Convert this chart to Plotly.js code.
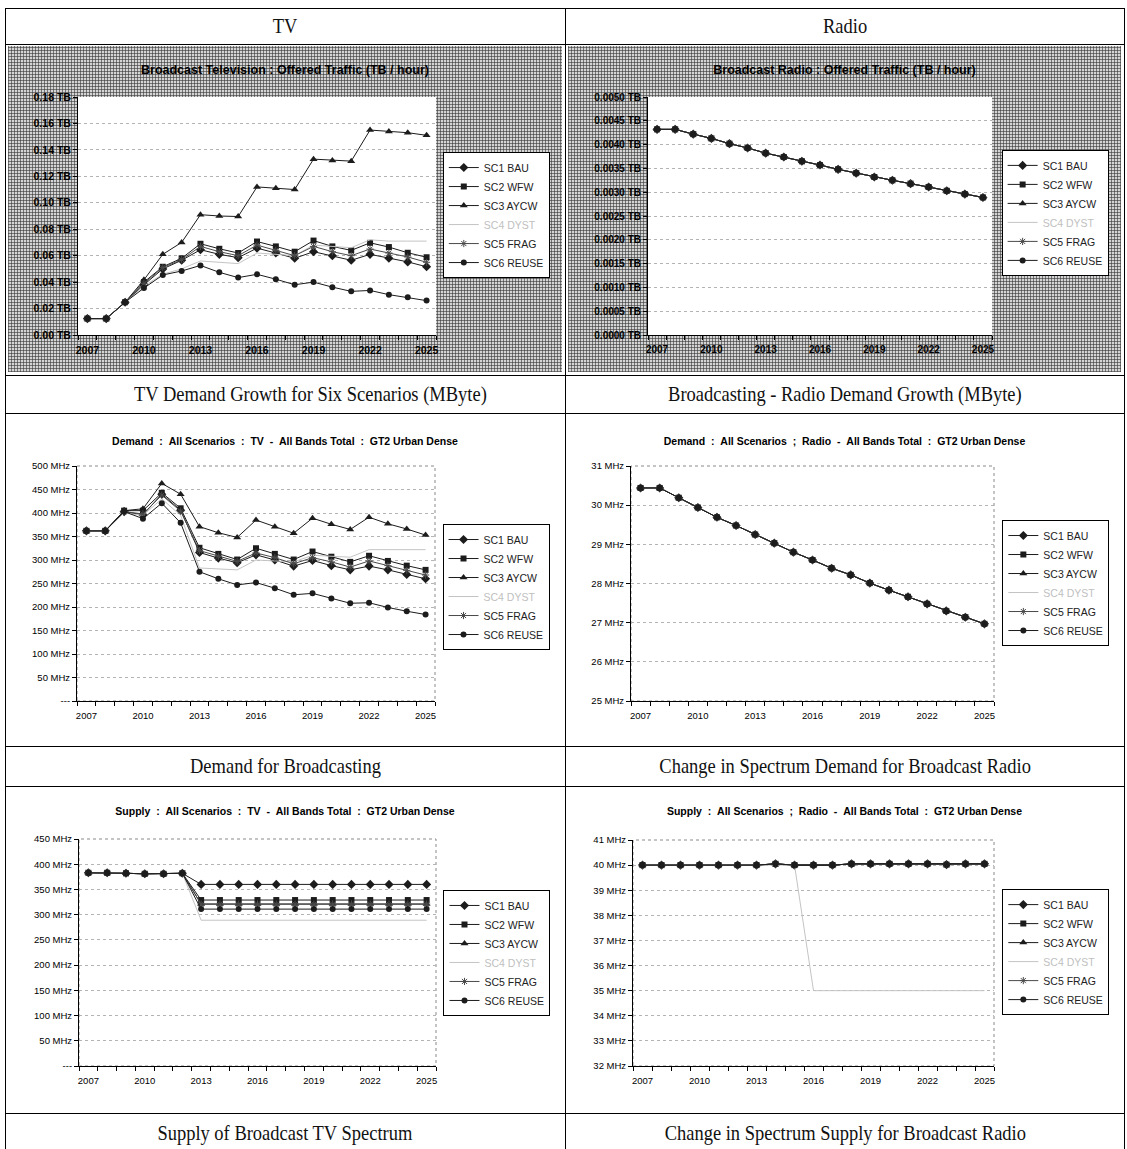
<!DOCTYPE html>
<html><head><meta charset="utf-8">
<script src="https://cdn.plot.ly/plotly-3.0.1.min.js"></script>
<style>
body{margin:0;background:#fff;width:1127px;height:1149px;position:relative;overflow:hidden;font-family:"Liberation Serif","Times New Roman",serif;}
.hl{position:absolute;height:1px;background:#000;}
.vl{position:absolute;width:1px;background:#000;}
.cap{position:absolute;text-align:center;font-size:21px;color:#111;white-space:nowrap;}
.cap span{display:inline-block;transform:scaleX(0.88);}
.panel{position:absolute;}
.hatch{background:
 repeating-linear-gradient(0deg, rgba(55,55,55,0.6) 0 1px, transparent 1px 3px),
 repeating-linear-gradient(90deg, rgba(55,55,55,0.6) 0 1px, transparent 1px 3px), #d4d4d4;}
</style>
</head><body>
<div class="hl" style="left:5px;top:8px;width:1120px"></div>
<div class="hl" style="left:5px;top:44px;width:1120px"></div>
<div class="hl" style="left:5px;top:375px;width:1120px"></div>
<div class="hl" style="left:5px;top:413px;width:1120px"></div>
<div class="hl" style="left:5px;top:746px;width:1120px"></div>
<div class="hl" style="left:5px;top:786px;width:1120px"></div>
<div class="hl" style="left:5px;top:1113px;width:1120px"></div>
<div class="vl" style="left:5px;top:8px;height:1141px"></div>
<div class="vl" style="left:565px;top:8px;height:1141px"></div>
<div class="vl" style="left:1124px;top:8px;height:1141px"></div>

<div class="cap" style="left:5px;top:8px;width:560px;line-height:36px"><span>TV</span></div>
<div class="cap" style="left:565px;top:8px;width:560px;line-height:36px"><span>Radio</span></div>
<div class="cap" style="left:30px;top:375px;width:560px;line-height:38px"><span>TV Demand Growth for Six Scenarios (MByte)</span></div>
<div class="cap" style="left:565px;top:375px;width:560px;line-height:38px"><span>Broadcasting - Radio Demand Growth (MByte)</span></div>
<div class="cap" style="left:5px;top:746px;width:560px;line-height:40px"><span>Demand for Broadcasting</span></div>
<div class="cap" style="left:565px;top:746px;width:560px;line-height:40px"><span>Change in Spectrum Demand for Broadcast Radio</span></div>
<div class="cap" style="left:5px;top:1113px;width:560px;line-height:40px"><span>Supply of Broadcast TV Spectrum</span></div>
<div class="cap" style="left:565px;top:1113px;width:560px;line-height:40px"><span>Change in Spectrum Supply for Broadcast Radio</span></div>

<div id="p1" class="panel hatch" style="left:8px;top:46px;width:554px;height:326px"></div>
<div id="p2" class="panel hatch" style="left:568px;top:46px;width:553px;height:326px"></div>
<div id="p3" class="panel" style="left:8px;top:418px;width:554px;height:326px"></div>
<div id="p4" class="panel" style="left:568px;top:418px;width:553px;height:326px"></div>
<div id="p5" class="panel" style="left:8px;top:788px;width:554px;height:323px"></div>
<div id="p6" class="panel" style="left:568px;top:788px;width:553px;height:323px"></div>

<script>
// ---------- DATA ----------
const years = [2007,2008,2009,2010,2011,2012,2013,2014,2015,2016,2017,2018,2019,2020,2021,2022,2023,2024,2025];
const yearTicks = [2007,2010,2013,2016,2019,2022,2025];
const scenarios = ['SC1 BAU','SC2 WFW','SC3 AYCW','SC4 DYST','SC5 FRAG','SC6 REUSE'];

// Broadcast Television : Offered Traffic (TB / hour)
const tvTrafficBAU   = [0.0124,0.0124,0.0248,0.038,0.050,0.0565,0.0645,0.061,0.0585,0.0657,0.062,0.058,0.063,0.060,0.0565,0.061,0.058,0.0553,0.0516];
const tvTrafficWFW   = [0.0124,0.0124,0.0248,0.040,0.0516,0.058,0.069,0.0652,0.062,0.0707,0.067,0.063,0.0714,0.067,0.064,0.0697,0.0665,0.0622,0.0588];
const tvTrafficAYCW  = [0.0124,0.0124,0.0248,0.0417,0.061,0.070,0.091,0.090,0.0896,0.112,0.111,0.110,0.133,0.132,0.1315,0.155,0.154,0.153,0.151];
const tvTrafficDYST  = [0.0124,0.0124,0.0248,0.037,0.046,0.050,0.056,0.055,0.054,0.062,0.061,0.060,0.068,0.067,0.066,0.072,0.071,0.071,0.071];
const tvTrafficFRAG  = [0.0124,0.0124,0.0248,0.039,0.051,0.057,0.067,0.063,0.060,0.068,0.064,0.060,0.067,0.063,0.060,0.065,0.062,0.059,0.055];
const tvTrafficREUSE = [0.0124,0.0124,0.0248,0.0355,0.0454,0.0484,0.0526,0.0474,0.0434,0.0459,0.0422,0.038,0.040,0.0362,0.033,0.0337,0.0305,0.0285,0.026];

// Broadcast Radio : Offered Traffic (TB / hour) — all six scenarios coincide
const radioTraffic = [0.00432,0.00432,0.00422,0.00413,0.00402,0.00393,0.00382,0.00374,0.00365,0.00357,0.00348,0.0034,0.00332,0.00325,0.00318,0.00311,0.00303,0.00296,0.00289];

// Demand : TV (MHz)
const tvDemandBAU   = [362,362,403,396,440,406,316,304,294,311,300,287,299,288,279,287,279,269,260];
const tvDemandWFW   = [362,362,405,405,443,410,326,313,301,325,313,301,318,307,296,309,298,288,279];
const tvDemandAYCW  = [362,362,405,409,463,440,371,358,348,385,371,357,389,376,365,391,377,366,353];
const tvDemandDYST  = [362,362,400,395,430,395,283,281,279,300,298,296,310,308,306,322,322,322,322];
const tvDemandFRAG  = [362,362,403,398,438,404,320,308,297,315,305,292,305,296,285,298,288,278,268];
const tvDemandREUSE = [362,362,403,388,421,379,275,260,247,252,240,226,229,218,208,209,199,191,184];

// Demand : Radio (MHz) — all six scenarios coincide
const radioDemand = [30.44,30.44,30.19,29.94,29.69,29.48,29.25,29.03,28.80,28.60,28.39,28.22,28.01,27.83,27.66,27.48,27.30,27.14,26.97];

// Supply : TV (MHz)
const tvSupplyBAU   = [383,383,382,381,381,382,360,360,360,360,360,360,360,360,360,360,360,360,360];
const tvSupplyWFW   = [383,383,382,381,381,382,329,329,329,329,329,329,329,329,329,329,329,329,329];
const tvSupplyAYCW  = [383,383,382,381,381,382,321,321,321,321,321,321,321,321,321,321,321,321,321];
const tvSupplyDYST  = [383,383,382,381,381,382,289,289,289,289,289,289,289,289,289,289,289,289,289];
const tvSupplyFRAG  = [383,383,382,381,381,382,321,321,321,321,321,321,321,321,321,321,321,321,321];
const tvSupplyREUSE = [383,383,382,381,381,382,311,311,311,311,311,311,311,311,311,311,311,311,311];

// Supply : Radio (MHz)
const radioSupply     = [40,40,40,40,40,40,40,40.05,40,40,40,40.05,40.05,40.05,40.05,40.05,40.02,40.05,40.05];
const radioSupplyDYST = [40,40,40,40,40,40,40,40,40,35,35,35,35,35,35,35,35,35,35];

// axis ticks
const tvTrafficTicks = [0,0.02,0.04,0.06,0.08,0.10,0.12,0.14,0.16,0.18];
const radioTrafficTicks = [0,0.0005,0.001,0.0015,0.002,0.0025,0.003,0.0035,0.004,0.0045,0.005];
const tvDemandTicks = [0,50,100,150,200,250,300,350,400,450,500];
const radioDemandTicks = [25,26,27,28,29,30,31];
const tvSupplyTicks = [0,50,100,150,200,250,300,350,400,450];
const radioSupplyTicks = [32,33,34,35,36,37,38,39,40,41];

// ---------- STYLE ----------
const FONT = '"Liberation Sans", Arial, sans-serif';
const seriesStyles = [
  {symbol:'diamond', size:7, color:'#1c1c1c'},
  {symbol:'square', size:6, color:'#1c1c1c'},
  {symbol:'triangle-up', size:7, color:'#1c1c1c'},
  {symbol:'circle', size:0, color:'#c4c4c4', noMarker:true},
  {symbol:'asterisk-open', size:6, color:'#4a4a4a'},
  {symbol:'circle', size:6, color:'#1c1c1c'}
];
const legendNames = scenarios.map((s,i)=> i===3 ? '<span style="color:#c0c0c0">'+s+'</span>' : s);

function makeTraces(list){
  return list.map((ys,i)=>{
    const st = seriesStyles[i];
    return {
      x: years, y: ys, type:'scatter', name: legendNames[i],
      mode: st.noMarker ? 'lines' : 'lines+markers',
      line:{color:st.color, width:1},
      marker:{symbol:st.symbol, size:st.size, color:st.color,
              line:{color:st.color, width: st.symbol.indexOf('open')>=0 ? 1 : 0}},
      hoverinfo:'skip'
    };
  });
}

function fmt(ticks, f){ return ticks.map(f); }

function draw(id, w, h, traces, o){
  const layout = {
    width:w, height:h,
    margin:{l:o.m[0], r:o.m[1], t:o.m[2], b:o.m[3], pad:0},
    paper_bgcolor:'rgba(0,0,0,0)', plot_bgcolor:'#ffffff',
    showlegend:true,
    title:{text:'<b>'+o.title+'</b>', font:{family:FONT, size:o.titleSize, color:'#000'},
           xref:'container', x:0.5, xanchor:'center', yref:'container', y:1-o.titleY/h, yanchor:'middle'},
    xaxis:{type:'linear', range:[2006.5,2025.5], tickvals:yearTicks, ticktext:yearTicks.map(String),
           ticks:'', showline:true, linecolor:'#000', linewidth:1, showgrid:false, zeroline:false,
           tickfont:{family:FONT, size:o.tickSize, color:'#000', weight:o.tickWeight||'normal'},
           ticklabelstandoff:o.xStand,
           minor:{ticks:'outside', tick0:2006.5, dtick:1, ticklen:4, tickcolor:'#000', tickwidth:1, showgrid:false},
           fixedrange:true},
    yaxis:{range:o.yRange, tickvals:o.yTicks, ticktext:o.yText, showline:true, linecolor:'#000', linewidth:1,
           ticks:'outside', ticklen:4, tickcolor:'#000', showgrid:true, gridcolor:'#b4b4b4', griddash:'dot',
           gridwidth:1, zeroline:false,
           tickfont:{family:FONT, size:o.tickSize, color:'#000', weight:o.tickWeight||'normal'},
           fixedrange:true},
    legend:{x:o.legX, y:o.legY, xanchor:'left', yanchor:'middle', bgcolor:'#fff', bordercolor:'#000', borderwidth:1,
            font:{family:FONT, size:10.5, color:'#222'}, itemwidth:30, tracegroupgap:0},
    shapes: o.border ? [{type:'rect', xref:'paper', yref:'paper', x0:0, x1:1, y0:0, y1:1,
                         line:{color:'#8a8a8a', width:1, dash:'dot'}, layer:'below'}] : []
  };
  Plotly.newPlot(id, traces, layout, {staticPlot:true, displayModeBar:false});
}

draw('p1', 554, 326,
  makeTraces([tvTrafficBAU,tvTrafficWFW,tvTrafficAYCW,tvTrafficDYST,tvTrafficFRAG,tvTrafficREUSE]),
  {m:[70,119,51,37], title:'Broadcast Television : Offered Traffic (TB / hour)', titleSize:12.5, titleY:24,
   tickSize:10.5, tickWeight:'bold', xStand:5, yRange:[0,0.18], yTicks:tvTrafficTicks,
   yText:fmt(tvTrafficTicks, v=>v.toFixed(2)+' TB'), legX:1.019, legY:0.504, border:false});

draw('p2', 553, 326,
  makeTraces([radioTraffic,radioTraffic,radioTraffic,radioTraffic,radioTraffic,radioTraffic]),
  {m:[80,121,51,37], title:'Broadcast Radio : Offered Traffic (TB / hour)', titleSize:12.5, titleY:24,
   tickSize:10, tickWeight:'bold', xStand:5, yRange:[0,0.005], yTicks:radioTrafficTicks,
   yText:fmt(radioTrafficTicks, v=>v.toFixed(4)+' TB'), legX:1.028, legY:0.513, border:false});

const sp = '\u00a0';
draw('p3', 554, 326,
  makeTraces([tvDemandBAU,tvDemandWFW,tvDemandAYCW,tvDemandDYST,tvDemandFRAG,tvDemandREUSE]),
  {m:[69,110,48,43], title:'Demand'+sp+' : '+sp+'All Scenarios'+sp+' : '+sp+'TV'+sp+' - '+sp+'All Bands Total'+sp+' : '+sp+'GT2 Urban Dense',
   titleSize:10.5, titleY:23, tickSize:9.5, xStand:6, yRange:[0,500], yTicks:tvDemandTicks,
   yText:fmt(tvDemandTicks, v=> v===0 ? '---' : v+' MHz'), legX:1.021, legY:0.485, border:true});

draw('p4', 553, 326,
  makeTraces([radioDemand,radioDemand,radioDemand,radioDemand,radioDemand,radioDemand]),
  {m:[63,107,48,43], title:'Demand'+sp+' : '+sp+'All Scenarios'+sp+' ; '+sp+'Radio'+sp+' - '+sp+'All Bands Total'+sp+' : '+sp+'GT2 Urban Dense',
   titleSize:10.5, titleY:23, tickSize:9.5, xStand:6, yRange:[25,31], yTicks:radioDemandTicks,
   yText:fmt(radioDemandTicks, v=> v+' MHz'), legX:1.023, legY:0.502, border:true});

draw('p5', 554, 323,
  makeTraces([tvSupplyBAU,tvSupplyWFW,tvSupplyAYCW,tvSupplyDYST,tvSupplyFRAG,tvSupplyREUSE]),
  {m:[71,105,51,45], title:'Supply'+sp+' : '+sp+'All Scenarios'+sp+' : '+sp+'TV'+sp+' - '+sp+'All Bands Total'+sp+' : '+sp+'GT2 Urban Dense',
   titleSize:10.5, titleY:23, tickSize:9.5, xStand:6, yRange:[0,450], yTicks:tvSupplyTicks,
   yText:fmt(tvSupplyTicks, v=> v===0 ? '---' : v+' MHz'), legX:1.021, legY:0.498, border:true});

draw('p6', 553, 323,
  makeTraces([radioSupply,radioSupply,radioSupply,radioSupplyDYST,radioSupply,radioSupply]),
  {m:[65,104,52,45], title:'Supply'+sp+' : '+sp+'All Scenarios'+sp+' ; '+sp+'Radio'+sp+' - '+sp+'All Bands Total'+sp+' : '+sp+'GT2 Urban Dense',
   titleSize:10.5, titleY:23, tickSize:9.5, xStand:6, yRange:[32,41], yTicks:radioSupplyTicks,
   yText:fmt(radioSupplyTicks, v=> v+' MHz'), legX:1.023, legY:0.504, border:true});
</script>
</body></html>
